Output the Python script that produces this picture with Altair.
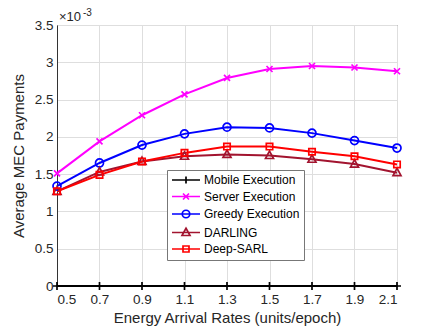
import altair as alt
import pandas as pd

# ---- data (payments in units of 1e-3) ----
x_vals = [0.5, 0.7, 0.9, 1.1, 1.3, 1.5, 1.7, 1.9, 2.1]
series_names = ["Mobile Execution", "Server Execution", "Greedy Execution", "DARLING", "Deep-SARL"]
mobile = [0, 0, 0, 0, 0, 0, 0, 0, 0]
server = [1.51, 1.94, 2.29, 2.57, 2.79, 2.91, 2.95, 2.93, 2.88]
greedy = [1.34, 1.65, 1.89, 2.04, 2.13, 2.12, 2.05, 1.95, 1.85]
darling = [1.27, 1.53, 1.67, 1.74, 1.765, 1.75, 1.70, 1.635, 1.52]
deep_sarl = [1.27, 1.49, 1.67, 1.785, 1.87, 1.87, 1.80, 1.74, 1.63]
x_ticks = [0.5, 0.7, 0.9, 1.1, 1.3, 1.5, 1.7, 1.9, 2.1]
y_ticks = [0.0, 0.5, 1.0, 1.5, 2.0, 2.5, 3.0, 3.5]
exp_base = ["×10"]
exp_power = ["-3"]

colors = ["#000000", "#FF00FF", "#0000FF", "#A2142F", "#FF0000"]
marker_paths = [
    "M-1,0L1,0M0,-1L0,1",
    "M-0.75,-0.75L0.75,0.75M-0.75,0.75L0.75,-0.75",
    "M-1,0A1,1 0 1,0 1,0A1,1 0 1,0 -1,0",
    "M0,-1.1L1,0.75L-1,0.75Z",
    "M-0.8,-0.8L0.8,-0.8L0.8,0.8L-0.8,0.8Z",
]
# legend symbols: size 100 -> 1 unit = 5px; line from -1 to 4.6 (28px), marker centred at 1.8
legend_paths = [
    "M-1,0L4.6,0M1.8,-0.7L1.8,0.7",
    "M-1,0L4.6,0M1.2,-0.6L2.4,0.6M1.2,0.6L2.4,-0.6",
    "M-1,0L4.6,0M1.05,0A0.75,0.75 0 1,0 2.55,0A0.75,0.75 0 1,0 1.05,0",
    "M-1,0L4.6,0M1.8,-0.85L2.6,0.6L1.0,0.6Z",
    "M-1,0L4.6,0M1.2,-0.6L2.4,-0.6L2.4,0.6L1.2,0.6Z",
]

all_series = [mobile, server, greedy, darling, deep_sarl]
rows = []
for i, (name, vals) in enumerate(zip(series_names, all_series)):
    for xv, yv in zip(x_vals, vals):
        rows.append({"x": xv, "y": yv, "series": name, "k": i})
df = pd.DataFrame(rows)

FONT = "Liberation Sans"

x_enc = alt.X(
    "x:Q",
    scale=alt.Scale(domain=[0.5, 2.1], nice=False, zero=False),
    axis=alt.Axis(
        values=x_ticks, format=".1f", title="Energy Arrival Rates (units/epoch)",
        grid=True, ticks=False, labelPadding=6, titlePadding=5, labelOverlap=False,
    ),
)
y_enc = alt.Y(
    "y:Q",
    scale=alt.Scale(domain=[0, 3.5], nice=False),
    axis=alt.Axis(
        values=y_ticks, title="Average MEC Payments",
        labelExpr="datum.value == 0 ? '0' : format(datum.value, '~g')",
        grid=True, ticks=False, labelPadding=4, titlePadding=8, labelOverlap=False,
    ),
)

color_scale = alt.Scale(domain=series_names, range=colors)

base = alt.Chart(df).encode(x=x_enc, y=y_enc)

lines = base.mark_line(strokeWidth=2).encode(
    color=alt.Color("series:N", scale=color_scale, legend=None),
    detail="series:N",
)

points = base.mark_point(filled=False, size=64, strokeWidth=1.7, opacity=1).encode(
    color=alt.Color("series:N", scale=color_scale, legend=None),
    shape=alt.Shape("series:N", scale=alt.Scale(domain=series_names, range=marker_paths), legend=None),
)

leg = alt.Legend(
    title=None, orient="none", legendX=110, legendY=145,
    fillColor="white", strokeColor="#777777", padding=4,
    labelFont=FONT, labelFontSize=12, labelColor="#000000",
    labelOffset=21, rowPadding=2.5, symbolStrokeWidth=1.7, symbolSize=100,
    symbolFillColor="transparent",
)

legend_layer = base.mark_point(filled=False, size=100, strokeWidth=1.7, opacity=1).encode(
    color=alt.Color("series:N", scale=color_scale, legend=leg),
    shape=alt.Shape("series:N", scale=alt.Scale(domain=series_names, range=legend_paths), legend=leg),
).transform_filter("datum.x > 100")

exp1 = alt.Chart(pd.DataFrame({"t": exp_base})).mark_text(
    align="left", baseline="bottom", fontSize=13, font=FONT, color="#262626"
).encode(text="t:N", x=alt.value(2), y=alt.value(-1))

exp2 = alt.Chart(pd.DataFrame({"t": exp_power})).mark_text(
    align="left", baseline="bottom", fontSize=10, font=FONT, color="#262626"
).encode(text="t:N", x=alt.value(26), y=alt.value(-7))

chart = alt.layer(lines, points, legend_layer, exp1, exp2).resolve_scale(
    color="independent", shape="independent"
).properties(
    width=340, height=261,
    padding={"left": 3, "top": 0, "right": 5, "bottom": 0},
).configure_view(
    stroke="#555555", strokeWidth=1
).configure_axis(
    labelFont=FONT, titleFont=FONT, labelFontSize=13.5, titleFontSize=15,
    titleFontWeight="normal", labelColor="#262626", titleColor="#262626",
    gridColor="#dedede", gridWidth=1, domainColor="#333333",
)

chart.save("out.html", embed_options={"renderer": "svg", "actions": False})
